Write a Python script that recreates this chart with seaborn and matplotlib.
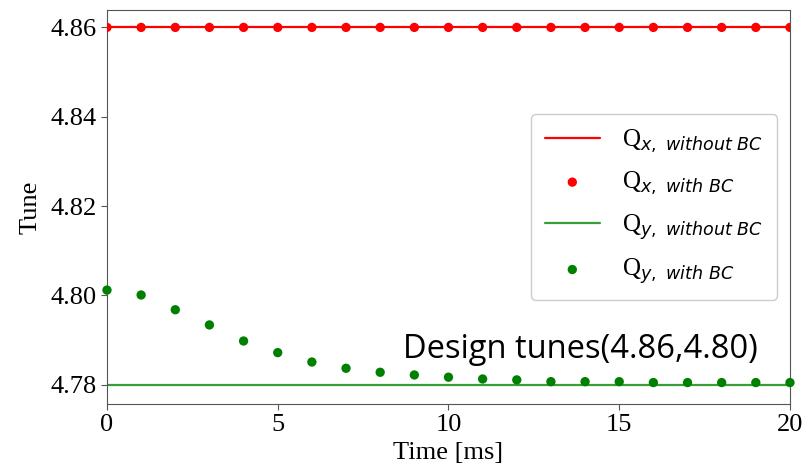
import numpy as np
import pandas as pd
import seaborn as sns
import matplotlib.pyplot as plt

# tune vs time
time_ms = np.arange(0, 21, 1)
qx_with_bc = [4.86] * 21
qy_with_bc = [4.8012, 4.8001, 4.7968, 4.7934, 4.7898, 4.7872, 4.7851, 4.7837,
              4.7828, 4.7822, 4.7817, 4.7813, 4.7811, 4.7807, 4.7807, 4.7807,
              4.7805, 4.7805, 4.7805, 4.7805, 4.7805]
qx_design = 4.86
qy_design = 4.78

sns.set_style("ticks")
plt.rcParams['mathtext.fontset'] = 'dejavusans'
plt.rcParams['text.color'] = 'black'
plt.rcParams['axes.labelcolor'] = 'black'
plt.rcParams['xtick.color'] = 'black'
plt.rcParams['ytick.color'] = 'black'

df = pd.DataFrame({'t': time_ms, 'qx': qx_with_bc, 'qy': qy_with_bc})
df['qx0'] = qx_design
df['qy0'] = qy_design

fig = plt.figure(figsize=(8.02, 4.69), dpi=100)
ax = fig.add_axes([0.1334, 0.1386, 0.8516, 0.8401])

sns.lineplot(data=df, x='t', y='qx0', color='red', lw=1.6, ax=ax,
             label=r'Q$_{x,\ without\ BC}$')
sns.scatterplot(data=df, x='t', y='qx', color='red', s=45, edgecolor='none',
                ax=ax, label=r'Q$_{x,\ with\ BC}$', zorder=3)
sns.lineplot(data=df, x='t', y='qy0', color='#3a9d3a', lw=1.6, ax=ax,
             label=r'Q$_{y,\ without\ BC}$')
sns.scatterplot(data=df, x='t', y='qy', color='green', s=45, edgecolor='none',
                ax=ax, label=r'Q$_{y,\ with\ BC}$', zorder=3, clip_on=False)

ax.set_xlim(0, 20)
ax.set_ylim(4.7757, 4.8639)
ax.set_xticks([0, 5, 10, 15, 20])
ax.set_yticks([4.78, 4.80, 4.82, 4.84, 4.86])
ax.set_yticklabels(['4.78', '4.80', '4.82', '4.84', '4.86'])

serif = ['Liberation Serif', 'DejaVu Serif']
for lab in ax.get_xticklabels() + ax.get_yticklabels():
    lab.set_family(serif)
    lab.set_fontsize(19)
ax.set_xlabel('Time [ms]', family=serif, fontsize=19, labelpad=4)
ax.set_ylabel('Tune', family=serif, fontsize=19, labelpad=6)

for sp in ax.spines.values():
    sp.set_color('#555555')
ax.tick_params(color='#555555', length=4)

leg = ax.legend(loc='center right', bbox_to_anchor=(0.981, 0.5),
                borderaxespad=0, prop={'family': serif, 'size': 18},
                handlelength=2.2, labelspacing=0.6, borderpad=0.55,
                handletextpad=0.9, framealpha=1, edgecolor='#cccccc')

ax.text(8.67, 4.7878, 'Design tunes(4.86,4.80)', family=['Open Sans', 'DejaVu Sans'],
        fontsize=23.5, ha='left', va='center')

fig.savefig('out.png', dpi=100)
